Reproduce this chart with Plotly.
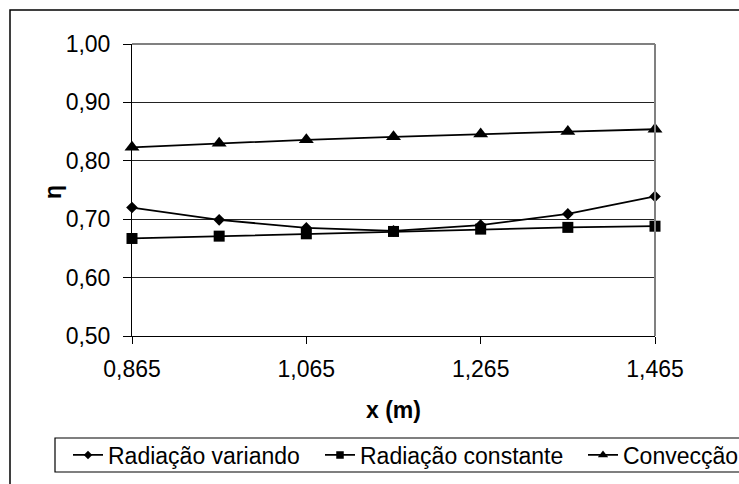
import plotly.graph_objects as go

x_vals = [0.865, 0.965, 1.065, 1.165, 1.265, 1.365, 1.465]
rad_variando = [0.720, 0.699, 0.685, 0.680, 0.690, 0.709, 0.739]
rad_constante = [0.667, 0.671, 0.675, 0.679, 0.683, 0.686, 0.688]
conveccao = [0.823, 0.830, 0.836, 0.841, 0.846, 0.850, 0.854]

series_names = ["Radiação variando", "Radiação constante", "Convecção"]
x_tickvals = [0.865, 1.065, 1.265, 1.465]
x_ticktext = ["0,865", "1,065", "1,265", "1,465"]
y_tickvals = [0.5, 0.6, 0.7, 0.8, 0.9, 1.0]
y_ticktext = ["0,50", "0,60", "0,70", "0,80", "0,90", "1,00"]

FONT = "Liberation Sans, Arial, sans-serif"
W, H = 739, 484
ML, MR, MT, MB = 132, 84, 44, 148
PW, PH = W - ML - MR, H - MT - MB

def px(xp):
    return (xp - ML) / PW

def py(yp):
    return (H - MB - yp) / PH

fig = go.Figure()
symbols = [("diamond", 9, 6.5), ("square", 11, 7.5), ("triangle-up", 13, 9)]
data = [rad_variando, rad_constante, conveccao]
for i, (name, ys) in enumerate(zip(series_names, data)):
    sym, sz, lsz = symbols[i]
    leg = "legend" if i == 0 else f"legend{i+1}"
    fig.add_trace(go.Scatter(
        x=x_vals, y=ys, name=name, mode="lines+markers",
        line=dict(color="black", width=1.8),
        marker=dict(symbol=sym, size=sz, color="black", line=dict(width=0)),
        legendgroup=name, showlegend=False, cliponaxis=False,
    ))
    # legend entry with smaller marker, linked to the data trace
    fig.add_trace(go.Scatter(
        x=[None], y=[None], name=name, mode="lines+markers",
        line=dict(color="black", width=1.8),
        marker=dict(symbol=sym, size=lsz, color="black", line=dict(width=0)),
        legendgroup=name, legend=leg, showlegend=True,
    ))

legend_common = dict(
    orientation="h", bgcolor="rgba(0,0,0,0)", borderwidth=0,
    font=dict(family=FONT, size=23, color="black"),
    yanchor="middle", xanchor="left", y=py(455),
)
fig.update_layout(
    width=W, height=H,
    margin=dict(l=ML, r=MR, t=MT, b=MB, autoexpand=False),
    paper_bgcolor="white", plot_bgcolor="white",
    font=dict(family=FONT, size=23, color="black"),
    showlegend=True,
    legend=dict(legend_common, x=px(68)),
    legend2=dict(legend_common, x=px(320)),
    legend3=dict(legend_common, x=px(583)),
    xaxis=dict(
        range=[0.865, 1.465], tickvals=x_tickvals, ticktext=x_ticktext,
        showgrid=False, zeroline=False, showline=True, linecolor="black", linewidth=1,
        ticks="outside", ticklen=7, tickcolor="black", tickwidth=1,
        tickfont=dict(family=FONT, size=23, color="black"),
        ticklabelstandoff=5,
    ),
    yaxis=dict(
        range=[0.5, 1.0], tickvals=y_tickvals, ticktext=y_ticktext,
        showgrid=True, gridcolor="#222222", gridwidth=1,
        zeroline=False, showline=True, linecolor="black", linewidth=1,
        ticks="outside", ticklen=8, tickcolor="black", tickwidth=1,
        tickfont=dict(family=FONT, size=23, color="black"),
        ticklabelstandoff=8,
    ),
    annotations=[
        dict(text="<b>x (m)</b>", xref="paper", yref="paper", x=0.5, y=py(410),
             xanchor="center", yanchor="middle", showarrow=False,
             font=dict(family=FONT, size=23, color="black")),
        dict(text="<b>η</b>", xref="paper", yref="paper", x=px(53), y=py(192),
             xanchor="center", yanchor="middle", showarrow=False, textangle=-90,
             font=dict(family=FONT, size=23, color="black")),
    ],
    shapes=[
        dict(type="line", xref="paper", yref="paper", x0=0, x1=1, y0=1, y1=1,
             line=dict(color="#808080", width=2), layer="above"),
        dict(type="line", xref="paper", yref="paper", x0=1, x1=1, y0=0, y1=1,
             line=dict(color="#808080", width=2), layer="above"),
        dict(type="rect", xref="paper", yref="paper", x0=px(55), x1=px(760),
             y0=py(472), y1=py(438), line=dict(color="black", width=1.2)),
        dict(type="rect", xref="paper", yref="paper", x0=px(10), x1=px(760),
             y0=py(500), y1=py(10), line=dict(color="black", width=1.5)),
    ],
)

fig.write_html("out.html")
